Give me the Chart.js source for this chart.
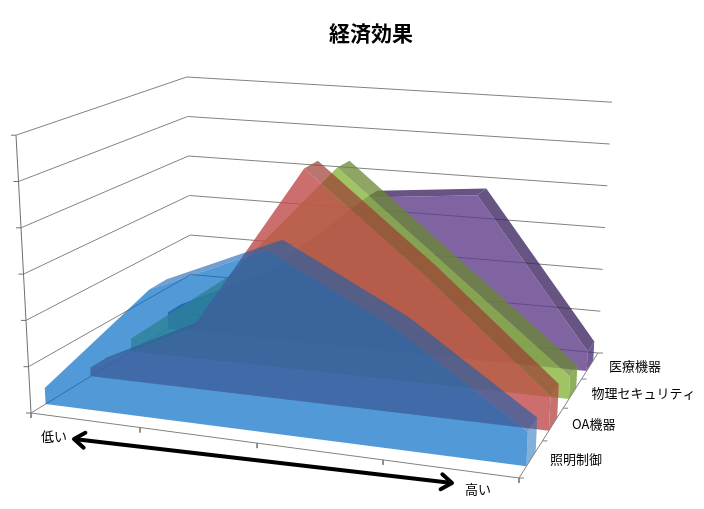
<!DOCTYPE html>
<html>
<head>
<meta charset="utf-8">
<script src="https://cdn.jsdelivr.net/npm/chart.js@4.4.1/dist/chart.umd.min.js"></script>
<style>
html, body { margin: 0; padding: 0; background: #fff; }
canvas { display: block; }
</style>
</head>
<body>
<canvas id="chart" width="704" height="509"></canvas>
<script>
// data
var title = '経済効果';
var categories = ['1', '2', '3', '4', '5'];
var axisEnds = ['低い', '高い'];
var seriesNames = ['照明制御', 'OA機器', '物理セキュリティ', '医療機器'];
var lighting = [0.35, 2.75, 3.85, 2.5, 0.7];
var oaDevices = [0.2, 1.35, 5.1, 3.0, 0.72];
var security = [0.3, 2.0, 4.7, 2.6, 0.5];
var medical = [0.4, 1.5, 3.6, 3.85, 0.45];
var valueTicks = [0, 1, 2, 3, 4, 5, 6];

// 3d box layout (floor corners FL, FR, BR, BL in canvas px)
var FLOOR = [[31, 413], [519, 478], [598, 353], [192, 314]];
var UNIT = [46.3, 50, 41.8, 39.5];
var VANISH = [308, 5546];
var SLAB = [0.3, 0.7];

var seriesValues = [lighting, oaDevices, security, medical];
var seriesColors = [
    {face: 'rgba(0,106,196,0.68)', top: 'rgba(20,95,175,0.6)', cap: 'rgba(30,110,190,0.55)'},
    {face: 'rgba(193,74,74,0.8)', top: 'rgba(155,60,50,0.7)', cap: 'rgba(180,65,65,0.75)'},
    {face: 'rgba(136,180,61,0.8)', top: 'rgba(105,135,50,0.75)', cap: 'rgba(115,155,50,0.8)'},
    {face: 'rgba(96,61,139,0.8)', top: 'rgba(62,36,95,0.78)', cap: 'rgba(78,48,118,0.8)'}
];

function squareToQuad(q){
    var x0 = q[0][0], y0 = q[0][1], x1 = q[1][0], y1 = q[1][1];
    var x2 = q[2][0], y2 = q[2][1], x3 = q[3][0], y3 = q[3][1];
    var dx1 = x1 - x2, dx2 = x3 - x2, dx3 = x0 - x1 + x2 - x3;
    var dy1 = y1 - y2, dy2 = y3 - y2, dy3 = y0 - y1 + y2 - y3;
    var den = dx1 * dy2 - dy1 * dx2;
    var g = (dx3 * dy2 - dy3 * dx2) / den;
    var h = (dx1 * dy3 - dy1 * dx3) / den;
    return {a: x1 - x0 + g * x1, b: x3 - x0 + h * x3, c: x0,
            d: y1 - y0 + g * y1, e: y3 - y0 + h * y3, f: y0, g: g, h: h};
}
var H = squareToQuad(FLOOR);

// u: category position 0..1, t: depth 0..1 (front to back), v: value
function proj(u, t, v){
    var w = H.g * u + H.h * t + 1;
    var fx = (H.a * u + H.b * t + H.c) / w;
    var fy = (H.d * u + H.e * t + H.f) / w;
    var unit = (1 - u) * (1 - t) * UNIT[0] + u * (1 - t) * UNIT[1] + u * t * UNIT[2] + (1 - u) * t * UNIT[3];
    var hp = v * unit;
    return {x: fx + hp * (fx - VANISH[0]) / (VANISH[1] - fy), y: fy - hp};
}
var GAP = {x: NaN, y: NaN};

var datasets = [];
function push(ds){
    ds.order = 10000 - datasets.length;
    ds.pointRadius = 0;
    ds.pointHoverRadius = 0;
    ds.spanGaps = false;
    datasets.push(ds);
}
function addShape(pts, color){
    push({data: pts.concat([pts[0]]), fill: 'shape', backgroundColor: color,
          borderColor: 'rgba(0,0,0,0)', borderWidth: 0});
}
function addLine(pts, color, width){
    push({data: pts, fill: false, borderColor: color, borderWidth: width});
}

// walls
var vmax = valueTicks[valueTicks.length - 1];
valueTicks.forEach(function(k){
    addLine([proj(0, 0, k), proj(0, 1, k), proj(1, 1, k)], '#828282', 1);
});
var vAxis = [proj(0, 0, 0), proj(0, 0, vmax), GAP];
valueTicks.forEach(function(k){
    var p = proj(0, 0, k);
    vAxis.push(p, {x: p.x - 5, y: p.y}, GAP);
});
addLine(vAxis, '#707070', 1);

// series, back to front
var nSeries = seriesValues.length;
for (var s = nSeries - 1; s >= 0; s--) {
    var vals = seriesValues[s];
    var col = seriesColors[s];
    var n = vals.length;
    var t0 = (s + SLAB[0]) / nSeries, t1 = (s + SLAB[1]) / nSeries;
    addShape([proj(1, t0, 0), proj(1, t1, 0), proj(1, t1, vals[n - 1]), proj(1, t0, vals[n - 1])], col.cap);
    for (var j = 0; j < n - 1; j++) {
        var ua = j / (n - 1), ub = (j + 1) / (n - 1);
        var fa = proj(ua, t0, vals[j]), fb = proj(ub, t0, vals[j + 1]);
        var ba = proj(ua, t1, vals[j]), bb = proj(ub, t1, vals[j + 1]);
        // only the top faces that show above the front edge
        var cross = (fb.x - fa.x) * (ba.y - fa.y) - (fb.y - fa.y) * (ba.x - fa.x);
        if (cross < 0) addShape([fa, fb, bb, ba], col.top);
    }
    var face = [proj(0, t0, 0)];
    for (var j2 = 0; j2 < n; j2++) face.push(proj(j2 / (n - 1), t0, vals[j2]));
    face.push(proj(1, t0, 0));
    addShape(face, col.face);
}

// floor axes
var cAxis = [proj(0, 0, 0), proj(1, 0, 0), GAP];
categories.forEach(function(c, i){
    var p = proj(i / (categories.length - 1), 0, 0);
    cAxis.push(p, {x: p.x, y: p.y + 5}, GAP);
});
addLine(cAxis, '#828282', 1);
var dAxis = [proj(1, 0, 0), proj(1, 1, 0), GAP];
for (var d = 0; d <= nSeries; d++) {
    var p = proj(1, d / nSeries, 0);
    dAxis.push(p, {x: p.x + 5, y: p.y}, GAP);
}
addLine(dAxis, '#828282', 1);

var textPlugin = {
    id: 'texts',
    afterDraw: function(chart){
        var ctx = chart.ctx;
        var sx = chart.scales.x, sy = chart.scales.y;
        function X(v){ return sx.getPixelForValue(v); }
        function Y(v){ return sy.getPixelForValue(v); }
        ctx.save();
        ctx.fillStyle = '#000';
        ctx.textBaseline = 'middle';
        ctx.textAlign = 'center';
        ctx.font = 'bold 21px "Noto Sans CJK JP"';
        ctx.fillText(title, X(371), Y(33));

        ctx.textAlign = 'left';
        ctx.font = '13px "Noto Sans CJK JP"';
        seriesNames.forEach(function(name, i){
            var p = proj(1, (i + 0.5) / nSeries, 0);
            ctx.fillText(name, X(p.x + 19), Y(p.y));
        });
        ctx.fillText(axisEnds[0], X(41), Y(436));
        ctx.fillText(axisEnds[1], X(465), Y(489));

        // double arrow
        var ax0 = X(74), ay0 = Y(439), ax1 = X(452), ay1 = Y(483);
        var ang = Math.atan2(ay1 - ay0, ax1 - ax0);
        ctx.strokeStyle = '#000';
        ctx.lineWidth = 4;
        ctx.lineCap = 'round';
        ctx.lineJoin = 'round';
        ctx.beginPath();
        ctx.moveTo(ax0 + 2 * Math.cos(ang), ay0 + 2 * Math.sin(ang));
        ctx.lineTo(ax1 - 2 * Math.cos(ang), ay1 - 2 * Math.sin(ang));
        ctx.stroke();
        function head(x, y, a){
            ctx.beginPath();
            ctx.moveTo(x + 13 * Math.cos(a + 0.62), y + 13 * Math.sin(a + 0.62));
            ctx.lineTo(x, y);
            ctx.lineTo(x + 13 * Math.cos(a - 0.62), y + 13 * Math.sin(a - 0.62));
            ctx.stroke();
        }
        head(ax0, ay0, ang);
        head(ax1, ay1, ang + Math.PI);
        ctx.restore();
    }
};

var chart = new Chart(document.getElementById('chart').getContext('2d'), {
    type: 'line',
    data: {datasets: datasets},
    options: {
        responsive: false,
        animation: false,
        devicePixelRatio: 1,
        events: [],
        layout: {padding: 0},
        scales: {
            x: {type: 'linear', min: 0, max: 704, display: false},
            y: {type: 'linear', min: 0, max: 509, reverse: true, display: false}
        },
        plugins: {
            legend: {display: false},
            tooltip: {enabled: false}
        }
    },
    plugins: [textPlugin]
});
</script>
</body>
</html>
